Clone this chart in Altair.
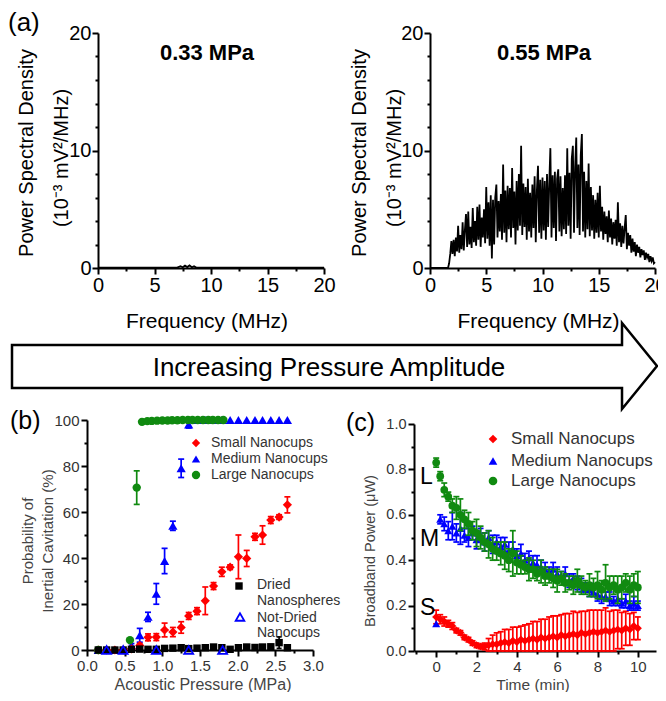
import altair as alt
import pandas as pd

FONT = "Liberation Sans"
W, H = 650, 684

# ---------------- (a) power spectral density ----------------
freq_033 = [0.0, 2.0, 4.0, 6.0, 7.0, 7.3, 7.5, 7.7, 7.9, 8.1, 8.3, 8.5, 8.7, 10.0, 12.0, 14.0, 16.0, 18.0, 20.0]
psd_033 = [0.02, 0.02, 0.03, 0.03, 0.04, 0.15, 0.06, 0.20, 0.08, 0.22, 0.06, 0.14, 0.04, 0.03, 0.03, 0.02, 0.02, 0.02, 0.02]

# 0.55 MPa spectrum, sampled every 0.1 MHz starting at 1.6 MHz
psd_055 = [
    0.0, 0.4, 1.2, 2.3,
    1.2, 2.4, 1.0, 2.6, 1.4, 3.6, 1.3, 2.8, 1.6, 3.9,
    1.5, 3.2, 4.6, 1.8, 4.8, 2.0, 3.5, 1.7, 5.1, 2.2,
    4.0, 1.9, 5.2, 2.4, 5.4, 1.8, 4.3, 2.6, 5.0, 2.1,
    6.9, 2.5, 5.6, 1.9, 6.2, 0.8, 5.8, 2.0, 6.0, 7.1,
    2.6, 5.7, 3.1, 6.3, 2.4, 8.8, 3.0, 6.6, 2.2, 7.0,
    3.3, 6.8, 2.6, 8.5, 3.4, 6.5, 2.0, 7.4, 3.2, 8.0,
    3.6, 10.4, 2.8, 7.2, 3.5, 6.9, 2.4, 7.6, 3.1, 6.4,
    2.6, 7.1, 3.4, 7.8, 2.2, 6.6, 8.7, 3.0, 7.5, 2.5,
    7.7, 3.2, 7.4, 2.4, 8.0, 3.5, 7.2, 10.2, 2.6, 7.9,
    3.4, 8.2, 2.3, 7.6, 8.4, 3.1, 7.8, 2.7, 6.8, 3.3,
    7.9, 2.9, 10.2, 3.6, 8.1, 2.5, 9.3, 10.4, 3.0, 8.6,
    11.1, 3.4, 8.8, 2.8, 9.6, 11.4, 3.1, 8.2, 2.6, 7.4,
    3.3, 8.9, 2.7, 6.9, 3.2, 6.2, 2.5, 5.8, 3.0, 6.4,
    2.6, 7.0, 3.1, 5.2, 2.4, 4.8, 2.9, 4.4, 2.2, 4.9,
    2.6, 4.2, 2.0, 3.9, 2.5, 4.1, 1.9, 5.6, 2.2, 3.8,
    1.8, 3.6, 2.1, 3.4, 4.5, 1.6, 3.0, 1.9, 2.8, 1.3,
    2.5, 1.4, 2.2, 1.0, 2.0, 1.3, 1.8, 0.9, 1.6, 1.1,
    1.5, 0.7, 1.3, 0.9, 1.2, 0.5, 1.0, 0.6, 0.9, 0.4,
    0.5,
]
freq_055 = [0.0] + [round(1.6 + 0.1 * i, 1) for i in range(len(psd_055))]
psd_055_all = [0.0] + psd_055

# ---------------- (b) probability of inertial cavitation ----------------
pressure = [0.15, 0.26, 0.37, 0.48, 0.59, 0.70, 0.81, 0.92, 1.03, 1.14, 1.25, 1.35,
            1.46, 1.57, 1.68, 1.79, 1.90, 2.01, 2.12, 2.23, 2.33, 2.44, 2.55, 2.66]
small_prob = [0, 0, 0, 0, 0.5, 2.0, 5.5, 5.6, 8.7, 7.8, 9.8, 14.8, 16.9, 21.4, 27.8, 34.0,
              36.0, 40.5, 39.8, 49.2, 50.0, 56.5, 57.8, 63.1]
small_err = [0, 0, 0, 0, 0, 0.8, 1.5, 1.5, 3.0, 2.0, 2.5, 1.5, 1.5, 6.0, 1.5, 2.0,
             1.0, 9.5, 3.5, 1.5, 4.0, 1.5, 1.0, 3.5]
medium_prob = [0, 0, 0, 0, 2.0, 6.4, 14.4, 24.4, 38.7, 54.0, 79.0, 98.0,
               100, 100, 100, 100, 100, 100, 100, 100, 100, 100, 100, 100]
medium_err = [0, 0, 0, 0, 0.8, 3.0, 2.0, 4.5, 5.5, 2.0, 4.0, 1.5,
              0, 0, 0, 0, 0, 0, 0, 0, 0, 0, 0, 0]
large_p = [0.15, 0.57, 0.66, 0.73, 0.80, 0.86, 0.93, 1.00, 1.07, 1.13, 1.20, 1.27,
           1.34, 1.40, 1.47, 1.54, 1.61, 1.67, 1.74, 1.81]
large_prob = [0, 4.3, 70.6, 99.2, 99.5, 99.6, 99.7, 99.8, 99.8, 99.9, 99.9, 100,
              100, 100, 100, 100, 100, 100, 100, 100]
large_err = [0, 0, 7.3, 0, 0, 0, 0, 0, 0, 0, 0, 0, 0, 0, 0, 0, 0, 0, 0, 0]
dried_prob = [0, 0, 0, 0, 0.3, 0.4, 0.3, 0.3, 0.7, 0.8, 1.0, 0.6, 0.8, 1.0, 1.3, 1.0,
              0.3, 1.0, 1.3, 1.1, 1.3, 1.4, 3.2, 1.0]
dried_err = [0, 0, 0, 0, 0.3, 0.4, 0.3, 0.3, 0.4, 0.4, 0.5, 0.4, 0.4, 0.5, 0.5, 0.4,
             0.3, 0.5, 0.5, 0.4, 0.5, 0.5, 2.5, 0.4]
notdried_p = [0.26, 0.48, 0.92, 1.35, 1.80]
notdried_prob = [0, 0, 0, 0, 0]

# ---------------- (c) broadband power vs time ----------------
times = [round(0.2 * i, 1) for i in range(51)]
c_small = [0.15, 0.14, 0.13, 0.12, 0.11, 0.09, 0.08, 0.06, 0.05, 0.035,
           0.025, 0.02, 0.02, 0.025, 0.03, 0.03, 0.035, 0.04, 0.035, 0.045,
           0.04, 0.05, 0.045, 0.05, 0.055, 0.05, 0.06, 0.055, 0.06, 0.065,
           0.06, 0.07, 0.065, 0.07, 0.075, 0.07, 0.08, 0.075, 0.08, 0.085,
           0.08, 0.085, 0.09, 0.085, 0.09, 0.095, 0.09, 0.10, 0.095, 0.11, 0.10]
c_small_err = [0.03, 0.02, 0.02, 0.015, 0.015, 0.01, 0.01, 0.01, 0.01, 0.01,
               0.01, 0.01, 0.015, 0.03, 0.04, 0.05, 0.05, 0.055, 0.06, 0.06,
               0.065, 0.06, 0.07, 0.07, 0.075, 0.08, 0.08, 0.085, 0.09, 0.09,
               0.095, 0.09, 0.10, 0.095, 0.10, 0.10, 0.095, 0.10, 0.10, 0.095,
               0.10, 0.095, 0.10, 0.09, 0.09, 0.085, 0.08, 0.075, 0.07, 0.06, 0.05]
c_medium = [0.12, 0.58, 0.56, 0.53, 0.55, 0.52, 0.54, 0.51, 0.50, 0.52,
            0.49, 0.51, 0.48, 0.50, 0.47, 0.48, 0.46, 0.47, 0.44, 0.45,
            0.42, 0.43, 0.40, 0.41, 0.39, 0.38, 0.37, 0.36, 0.35, 0.36,
            0.34, 0.33, 0.34, 0.31, 0.32, 0.30, 0.29, 0.28, 0.27, 0.26,
            0.25, 0.24, 0.24, 0.23, 0.22, 0.23, 0.21, 0.22, 0.20, 0.21, 0.20]
c_medium_err = [0.0, 0.02, 0.03, 0.04, 0.06, 0.04, 0.07, 0.03, 0.04, 0.03,
                0.04, 0.03, 0.04, 0.03, 0.04, 0.03, 0.04, 0.03, 0.04, 0.03,
                0.03, 0.04, 0.03, 0.03, 0.03, 0.04, 0.03, 0.03, 0.02, 0.03,
                0.03, 0.02, 0.03, 0.03, 0.02, 0.03, 0.03, 0.02, 0.03, 0.02,
                0.03, 0.03, 0.02, 0.03, 0.02, 0.03, 0.02, 0.03, 0.02, 0.03, 0.02]
c_large = [0.83, 0.77, 0.71, 0.68, 0.64, 0.63, 0.60, 0.58, 0.56, 0.53,
           0.52, 0.50, 0.48, 0.47, 0.45, 0.44, 0.43, 0.42, 0.40, 0.43,
           0.39, 0.38, 0.37, 0.36, 0.36, 0.34, 0.35, 0.33, 0.33, 0.32,
           0.31, 0.32, 0.30, 0.30, 0.29, 0.31, 0.29, 0.28, 0.29, 0.28,
           0.29, 0.27, 0.30, 0.28, 0.29, 0.27, 0.28, 0.30, 0.27, 0.29, 0.28]
c_large_err = [0.02, 0.02, 0.03, 0.02, 0.03, 0.05, 0.07, 0.04, 0.05, 0.04,
               0.06, 0.05, 0.04, 0.06, 0.05, 0.04, 0.05, 0.06, 0.05, 0.10,
               0.05, 0.04, 0.03, 0.05, 0.04, 0.03, 0.05, 0.04, 0.03, 0.04,
               0.05, 0.03, 0.04, 0.03, 0.04, 0.05, 0.04, 0.03, 0.05, 0.04,
               0.06, 0.04, 0.08, 0.05, 0.04, 0.06, 0.05, 0.04, 0.06, 0.05, 0.07]

RED, BLUE, GREEN, BLACK = "#ff0000", "#0000ff", "#108a10", "#000000"
GRAY_LAB, GRAY_TIT = "#333333", "#444444"

# ---------------- layout (pixel ranges inside the canvas) ----------------
A_Y = [260, 25]
A1_X = [90, 316]
A2_X = [422, 647]
B_X = [79, 305]
B_Y = [642, 412]
C_X = [406, 648]
C_Y = [643, 416]


def sc(domain, rng):
    return alt.Scale(domain=domain, range=rng, nice=False, zero=False)


def axis(orient, offset, values, major, fmt, fs, color, pad):
    return alt.Axis(
        orient=orient, offset=offset, values=values, format=fmt, title=None,
        labelExpr=f"({major}) ? datum.label : ''",
        tickSize={"condition": {"test": major, "value": 6}, "value": 3},
        tickWidth=2, tickColor="black", domainColor="black", domainWidth=2,
        labelFont=FONT, labelFontSize=fs, labelColor=color, labelPadding=pad,
        labelFlush=False, labelOverlap=False, grid=False,
    )


ONE = alt.Data(values=[{}])


def txt(s, x, y, size, weight="normal", color="black", angle=0, align="center"):
    return alt.Chart(ONE).mark_text(
        text=s, font=FONT, fontSize=size, fontWeight=weight, color=color,
        angle=angle, align=align, baseline="middle",
    ).encode(x=alt.value(x), y=alt.value(y))


def sym(x, y, shape, color, size, filled=True):
    return alt.Chart(ONE).mark_point(
        shape=shape, filled=filled, color=color, size=size, opacity=1, strokeWidth=1.8,
    ).encode(x=alt.value(x), y=alt.value(y))


def pts(df, xs, ys, shape, color, size, filled=True, xaxis=None, yaxis=None):
    return alt.Chart(df).mark_point(
        shape=shape, filled=filled, color=color, size=size, opacity=1,
        strokeWidth=1.8,
    ).encode(
        x=alt.X("x:Q", scale=xs, axis=xaxis),
        y=alt.Y("y:Q", scale=ys, axis=yaxis),
    )


def errs(df, xs, ys, color, cap, width):
    d = df.copy()
    d["lo"] = (d["y"] - d["e"]).clip(lower=0)
    d["hi"] = d["y"] + d["e"]
    d = d[d["e"] > 0]
    base = alt.Chart(d)
    X = alt.X("x:Q", scale=xs, axis=None)
    rule = base.mark_rule(color=color, strokeWidth=width).encode(
        x=X, y=alt.Y("lo:Q", scale=ys, axis=None), y2="hi:Q")
    lo = base.mark_tick(color=color, orient="horizontal", size=cap, thickness=width, opacity=1).encode(
        x=X, y=alt.Y("lo:Q", scale=ys, axis=None))
    hi = base.mark_tick(color=color, orient="horizontal", size=cap, thickness=width, opacity=1).encode(
        x=X, y=alt.Y("hi:Q", scale=ys, axis=None))
    return [rule, lo, hi]


layers = []

# ---------------- arrow ----------------
ARROW = "M-1,-0.0651L0.8915,-0.0651L0.8915,-0.1333L1,0L0.8915,0.1333L0.8915,0.0682L-1,0.0682Z"
layers.append(alt.Chart(ONE).mark_point(
    shape=ARROW, filled=True, fill="white", stroke="black", strokeWidth=2.5,
    size=416025, opacity=1,
).encode(x=alt.value(326.5), y=alt.value(358)))
layers.append(txt("Increasing Pressure Amplitude", 321, 360, 26))

# ---------------- panel (a) ----------------
a_xv = [0, 2.5, 5, 7.5, 10, 12.5, 15, 17.5, 20]
a_yv = list(range(0, 21, 2))
for xr, fr, pv, ylab_x, title, tx in [
    (A1_X, freq_033, psd_033, (19, 54), "0.33 MPa", 199),
    (A2_X, freq_055, psd_055_all, (352, 387), "0.55 MPa", 536),
]:
    xs = sc([0, 20], xr)
    ys = sc([0, 20], A_Y)
    df = pd.DataFrame({"f": fr, "p": pv})
    layers.append(alt.Chart(df).mark_line(color="black", strokeWidth=1.8).encode(
        x=alt.X("f:Q", scale=xs,
                axis=axis("bottom", A_Y[0] - H, a_xv, "datum.value % 5 === 0", "d", 20, "black", 1)),
        y=alt.Y("p:Q", scale=ys,
                axis=axis("left", -xr[0], a_yv, "datum.value % 10 === 0", "d", 20, "black", 1)),
    ))
    layers.append(txt("Power Spectral Density", ylab_x[0], 145, 20, angle=270))
    layers.append(txt("(10\u207b\u00b3 mV\u00b2/MHz)", ylab_x[1], 150, 20, angle=270))
    layers.append(txt(title, tx, 45, 22, weight="bold"))
    layers.append(txt("Frequency (MHz)", (xr[0] + xr[1]) / 2 - 4, 314, 21))

layers.append(txt("(a)", 0, 15, 26, align="left"))

# ---------------- panel (b) ----------------
bxs = sc([0, 3], B_X)
bys = sc([0, 100], B_Y)
b_xv = [0, 0.25, 0.5, 0.75, 1.0, 1.25, 1.5, 1.75, 2.0, 2.25, 2.5, 2.75, 3.0]
b_yv = list(range(0, 101, 10))
df_small = pd.DataFrame({"x": pressure, "y": small_prob, "e": small_err})
df_med = pd.DataFrame({"x": pressure, "y": medium_prob, "e": medium_err})
df_large = pd.DataFrame({"x": large_p, "y": large_prob, "e": large_err})
df_dried = pd.DataFrame({"x": pressure, "y": dried_prob, "e": dried_err})
df_nd = pd.DataFrame({"x": notdried_p, "y": notdried_prob})

layers += errs(df_med, bxs, bys, BLUE, 6, 1.7)
layers.append(pts(df_med, bxs, bys, "triangle-up", BLUE, 85,
                  xaxis=axis("bottom", B_Y[0] - H, b_xv,
                             "abs(datum.value * 2 - round(datum.value * 2)) < 0.001", ".1f", 15, GRAY_LAB, 2),
                  yaxis=axis("left", -B_X[0], b_yv, "datum.value % 20 === 0", "d", 15, GRAY_LAB, 2)))
layers += errs(df_small, bxs, bys, RED, 6, 1.7)
layers.append(pts(df_small, bxs, bys, "diamond", RED, 85))
layers += errs(df_large, bxs, bys, GREEN, 6, 1.7)
layers.append(pts(df_large, bxs, bys, "circle", GREEN, 70))
layers += errs(df_dried, bxs, bys, BLACK, 5, 1.7)
layers.append(pts(df_dried, bxs, bys, "square", BLACK, 55))
layers.append(pts(df_nd, bxs, bys, "triangle-up", BLUE, 80, filled=False))

layers.append(txt("(b)", 2, 413, 25, align="left"))
layers.append(txt("Probability of", 20, 533, 15, color=GRAY_TIT, angle=270))
layers.append(txt("Inertial Cavitation (%)", 40, 533, 15, color=GRAY_TIT, angle=270))
layers.append(txt("Acoustic Pressure (MPa)", 195, 677, 16, color=GRAY_TIT))
for (shape, color, label, yy) in [("diamond", RED, "Small Nanocups", 435),
                                  ("triangle-up", BLUE, "Medium Nanocups", 451),
                                  ("circle", GREEN, "Large Nanocups", 467)]:
    layers.append(sym(188, yy, shape, color, 70))
    layers.append(txt(label, 203, yy, 14, color=GRAY_LAB, align="left"))
layers.append(sym(231, 578, "square", BLACK, 55))
layers.append(txt("Dried", 249, 577, 14, color=GRAY_LAB, align="left"))
layers.append(txt("Nanospheres", 249, 593, 14, color=GRAY_LAB, align="left"))
layers.append(sym(232, 609, "triangle-up", BLUE, 75, filled=False))
layers.append(txt("Not-Dried", 249, 610, 14, color=GRAY_LAB, align="left"))
layers.append(txt("Nanocups", 249, 625, 14, color=GRAY_LAB, align="left"))

# ---------------- panel (c) ----------------
cxs = sc([-1.1, 10.9], C_X)
cys = sc([0, 1], C_Y)
c_xv = list(range(-1, 11))
c_yv = [0, 0.1, 0.2, 0.3, 0.4, 0.5, 0.6, 0.7, 0.8, 0.9, 1.0]
dc_small = pd.DataFrame({"x": times, "y": c_small, "e": c_small_err})
dc_med = pd.DataFrame({"x": times, "y": c_medium, "e": c_medium_err})
dc_large = pd.DataFrame({"x": times, "y": c_large, "e": c_large_err})

layers += errs(dc_small, cxs, cys, RED, 6, 1.7)
layers.append(pts(dc_small, cxs, cys, "diamond", RED, 65,
                  xaxis=axis("bottom", C_Y[0] - H, c_xv,
                             "datum.value % 2 === 0", "d", 15, GRAY_LAB, 2),
                  yaxis=axis("left", -C_X[0], c_yv,
                             "abs(datum.value * 5 - round(datum.value * 5)) < 0.001", ".1f", 14.5, GRAY_LAB, 2)))
layers += errs(dc_med, cxs, cys, BLUE, 6, 1.7)
layers.append(pts(dc_med, cxs, cys, "triangle-up", BLUE, 65))
layers += errs(dc_large, cxs, cys, GREEN, 6, 1.7)
layers.append(pts(dc_large, cxs, cys, "circle", GREEN, 60))

layers.append(txt("(c)", 338, 415, 25, align="left"))
layers.append(txt("Broadband Power (\u03bcW)", 363, 543, 14.5, color=GRAY_TIT, angle=270))
layers.append(txt("Time (min)", 525, 677, 15.5, color=GRAY_TIT))
layers.append(txt("L", 412, 469, 23, align="left"))
layers.append(txt("M", 412, 531, 23, align="left"))
layers.append(txt("S", 412, 600, 23, align="left"))
for (shape, color, label, yy) in [("diamond", RED, "Small Nanocups", 431),
                                  ("triangle-up", BLUE, "Medium Nanocups", 453),
                                  ("circle", GREEN, "Large Nanocups", 473)]:
    layers.append(sym(485, yy, shape, color, 75))
    layers.append(txt(label, 503, yy, 17, color=GRAY_LAB, align="left"))

chart = alt.layer(*layers).resolve_scale(
    x="independent", y="independent"
).resolve_axis(
    x="independent", y="independent"
).properties(
    width=W, height=H, padding=0, background="white",
    autosize=alt.AutoSizeParams(type="none"),
).configure_view(stroke=None)

chart.save("out.html", embed_options={"renderer": "svg", "actions": False})
